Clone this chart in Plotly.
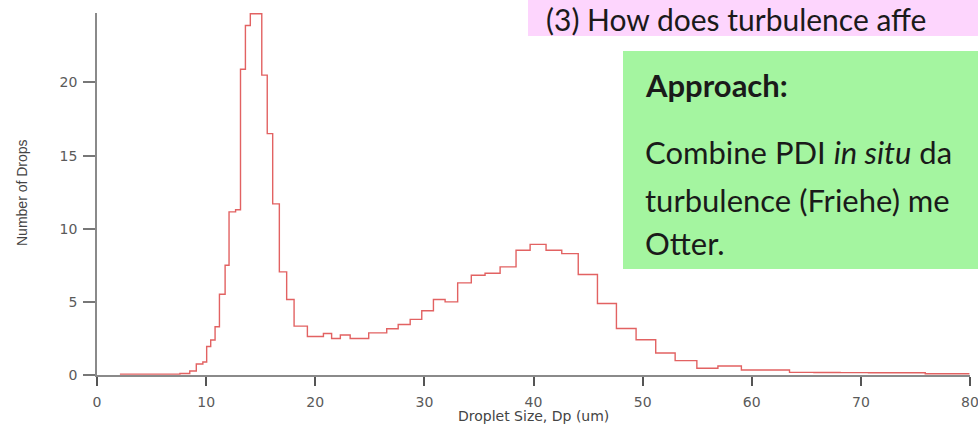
import plotly.graph_objects as go

# Droplet size bin left edges (um) and final right edge
bin_edges = [2.1, 7.6, 8.5, 9.1, 9.7, 10.05, 10.42, 10.82, 11.22, 11.74, 12.1, 12.7,
             13.15, 13.6, 14.05, 15.1, 15.6, 16.1, 16.71, 17.38, 18.06, 19.28, 20.75,
             21.5, 22.3, 23.2, 24.9, 26.55, 27.6, 28.7, 29.76, 30.83, 31.9, 33.05,
             34.3, 35.56, 36.94, 38.4, 39.69, 41.15, 42.59, 44.1, 45.86, 47.6, 49.4,
             51.2, 52.98, 54.97, 56.9, 59.05, 63.46, 65.7, 68.1, 70.7, 75.9, 79.95]
# Number of drops per bin
drop_counts = [0.06, 0.1, 0.27, 0.75, 0.89, 1.95, 2.39, 3.3, 5.52, 7.5, 11.15, 11.3,
               20.9, 23.9, 24.7, 20.5, 16.5, 11.7, 7.05, 5.16, 3.34, 2.63, 2.84, 2.5,
               2.73, 2.5, 2.88, 3.16, 3.45, 3.8, 4.39, 5.16, 5.0, 6.3, 6.82, 6.96, 7.39,
               8.53, 8.93, 8.53, 8.3, 6.87, 4.89, 3.18, 2.41, 1.5, 0.98, 0.46, 0.62,
               0.34, 0.18, 0.17, 0.16, 0.15, 0.09]
x_ticks = [0, 10, 20, 30, 40, 50, 60, 70, 80]
y_ticks = [0, 5, 10, 15, 20]

W, H = 978, 427
L, R, T, B = 97, 8, 13, 52
pw, ph = W - L - R, H - T - B

def px(xp):
    return (xp - L) / pw

def py(yp):
    return (H - B - yp) / ph

fig = go.Figure()
fig.add_trace(go.Scatter(
    x=bin_edges, y=drop_counts + [drop_counts[-1]],
    mode="lines", line=dict(shape="hv", color="#e26262", width=1.4),
    showlegend=False, hoverinfo="skip", cliponaxis=False))

axis_font = dict(family="DejaVu Sans", size=14, color="#5a5a5a")
fig.update_layout(
    width=W, height=H, margin=dict(l=L, r=R, t=T, b=B, autoexpand=False),
    paper_bgcolor="white", plot_bgcolor="white",
    xaxis=dict(range=[0, 80], tickvals=x_ticks, ticks="outside", ticklen=9,
               tickcolor="#555", tickwidth=1.5, showline=True, linecolor="#8a8a8a",
               linewidth=1.5, showgrid=False, zeroline=False, tickfont=axis_font,
               ticklabelstandoff=4, ticklabeloverflow="allow", automargin=False),
    yaxis=dict(range=[0, 24.75], tickvals=y_ticks, ticks="outside", ticklen=12,
               tickcolor="#777", tickwidth=1.5, showline=True, linecolor="#8a8a8a",
               linewidth=1.5, showgrid=False, zeroline=False, tickfont=axis_font,
               ticklabelstandoff=3, automargin=False),
)

annotations = [
    dict(text="Droplet Size, Dp (um)", x=px(533), y=py(416), xref="paper", yref="paper",
         showarrow=False, xanchor="center", yanchor="middle",
         font=dict(family="DejaVu Sans", size=14, color="#444")),
    dict(text="Number of Drops", x=px(22), y=py(193), xref="paper", yref="paper",
         showarrow=False, xanchor="center", yanchor="middle", textangle=-90,
         font=dict(family="Liberation Sans", size=14, color="#444")),
]

box_font = dict(family="Lato", size=31, color="#1a1a1a")
annotations += [
    dict(text="(3) How does turbulence affe", x=px(545), y=py(0), xref="paper",
         yref="paper", showarrow=False, xanchor="left", yanchor="top", borderpad=0,
         font=dict(family="Lato", size=30, color="#1a1a1a")),
    dict(text="<b>Approach:</b>", x=px(643), y=py(85), xref="paper", yref="paper",
         showarrow=False, xanchor="left", yanchor="middle", font=box_font),
    dict(text="Combine PDI <i>in situ</i> da", x=px(643), y=py(152), xref="paper",
         yref="paper", showarrow=False, xanchor="left", yanchor="middle", font=box_font),
    dict(text="turbulence (Friehe) me", x=px(643), y=py(200), xref="paper",
         yref="paper", showarrow=False, xanchor="left", yanchor="middle", font=box_font),
    dict(text="Otter.", x=px(643), y=py(243), xref="paper", yref="paper",
         showarrow=False, xanchor="left", yanchor="middle", font=box_font),
]

shapes = [
    dict(type="rect", xref="paper", yref="paper", x0=px(528), x1=px(985), y0=py(36),
         y1=py(-5), fillcolor="#fdd5fd", line=dict(width=0), layer="above"),
    dict(type="rect", xref="paper", yref="paper", x0=px(623), x1=px(985), y0=py(269),
         y1=py(51), fillcolor="#a4f5a0", line=dict(width=0), layer="above"),
]
fig.update_layout(annotations=annotations, shapes=shapes)

fig.write_html("out.html", config={"displayModeBar": False},
               post_script="document.body.style.margin='0';")
